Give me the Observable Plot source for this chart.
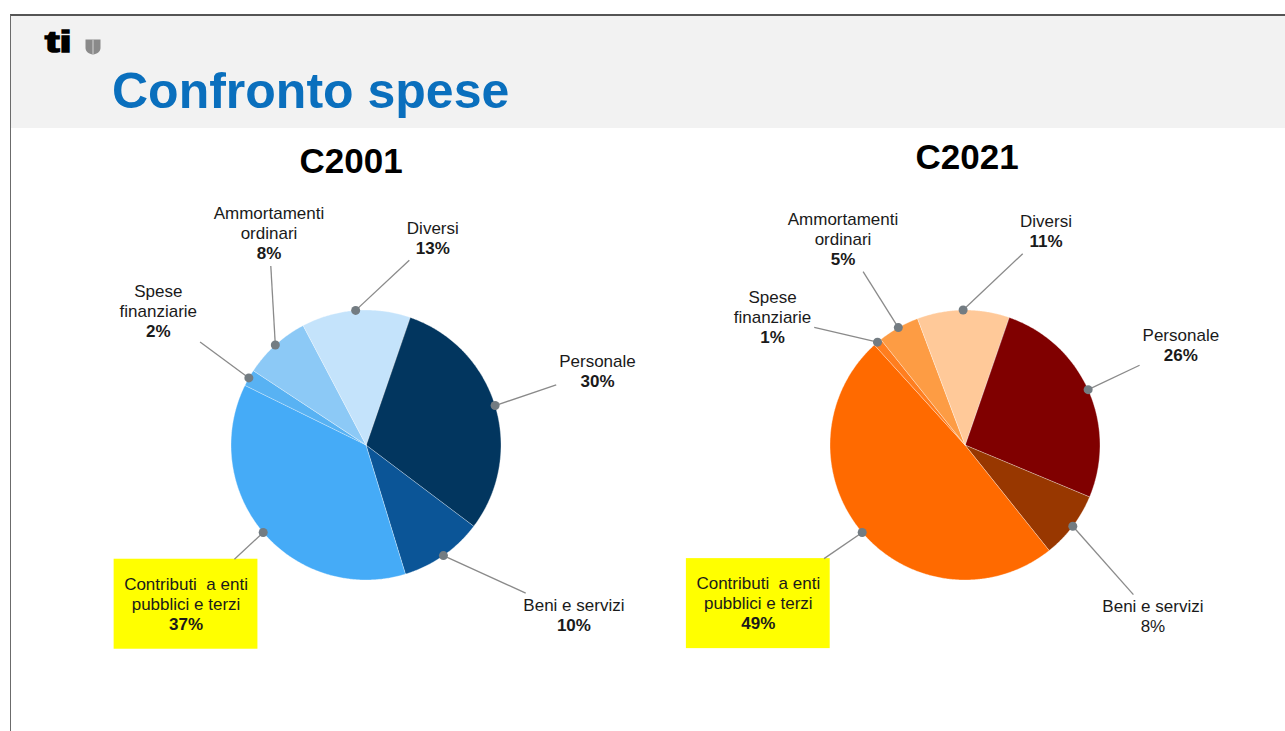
<!DOCTYPE html>
<html>
<head>
<meta charset="utf-8">
<script src="https://cdn.jsdelivr.net/npm/d3@7"></script>
<script src="https://cdn.jsdelivr.net/npm/@observablehq/plot@0.6"></script>
<style>
  html, body { margin: 0; padding: 0; background: #fff; }
  body { width: 1285px; height: 731px; overflow: hidden; position: relative; font-family: Arial, "Liberation Sans", sans-serif; }
  #frame { position: absolute; left: 10px; top: 14px; width: 1275px; height: 717px; border-left: 1.5px solid #6b6b6b; border-top: 2px solid #555; box-sizing: border-box; z-index: 3; pointer-events: none; }
  #header { position: absolute; left: 11px; top: 16px; width: 1274px; height: 112px; background: #f2f2f2; }
  #logo { position: absolute; left: 45px; top: 27px; font: bold 30px "Liberation Sans", Arial, sans-serif; line-height: 30px; color: #000; -webkit-text-stroke: 1.6px #000; transform: scaleX(1.45); transform-origin: left center; }
  #shield { position: absolute; left: 85px; top: 39px; }
  #title { position: absolute; left: 112px; top: 66px; font: bold 50px "Liberation Sans", Arial, sans-serif; line-height: 50px; color: #0a6fbd; white-space: nowrap; }
  #chart { position: absolute; left: 0; top: 128px; z-index: 1; }
</style>
</head>
<body>
<div id="frame"></div>
<div id="header"></div>
<div id="logo">ti</div>
<svg id="shield" width="16" height="16" viewBox="0 0 16 16">
  <path d="M0.5 0.5 H15.5 V9 C15.5 12.5 12 15 8 15.5 C4 15 0.5 12.5 0.5 9 Z" fill="#8a8a8a"/>
  <path d="M8 0.5 V15.5" stroke="#c8c8c8" stroke-width="1.2"/>
</svg>
<div id="title">Confronto spese</div>
<div id="chart"></div>
<script>
// ---------- data ----------
const years = ["C2001", "C2021"];
const categories = [
  "Personale",
  "Beni e servizi",
  "Contributi a enti pubblici e terzi",
  "Spese finanziarie",
  "Ammortamenti ordinari",
  "Diversi"
];
const labelLines = [
  ["Personale"],
  ["Beni e servizi"],
  ["Contributi  a enti", "pubblici e terzi"],
  ["Spese", "finanziarie"],
  ["Ammortamenti", "ordinari"],
  ["Diversi"]
];
const values2001 = [30, 10, 37, 2, 8, 13];
const values2021 = [26, 8, 49, 1, 5, 11];
const colors2001 = ["#02365f", "#0b5597", "#45abf7", "#58b2f3", "#8cc9f6", "#c4e3fb"];
const colors2021 = ["#800000", "#983700", "#ff6a00", "#ff7e1f", "#fd9c44", "#ffc999"];
const highlighted = "Contributi a enti pubblici e terzi";

// ---------- layout (not data) ----------
const U = 135;            // pixels per pie radius
const startDeg = 19;      // first slice angle
const labelPolar = {      // [angle deg clockwise from top, distance in radii]
  C2001: [[72.3, 1.80], [129.3, 1.99], [228.5, 1.78], [302.8, 1.83], [335.3, 1.72], [17.9, 1.61]],
  C2021: [[65.3, 1.76], [132.4, 1.885], [232.5, 1.93], [303.5, 1.71], [329.3, 1.77], [20.8, 1.69]]
};
const plainPct = {C2021: ["Beni e servizi"]};
const titlePos = {C2001: [-0.11, 2.10], C2021: [0.015, 2.13]};
const W = 1285, H = 603, panelW = 599, centerY = 316.5;
const FONT = "Arial, 'Liberation Sans', sans-serif";

// ---------- derived geometry ----------
const canvas = document.createElement("canvas");
const ctx = canvas.getContext("2d");
function textW(t, bold) { ctx.font = (bold ? "bold " : "") + "17px 'Liberation Sans', Arial"; return ctx.measureText(t).width; }

const series = [
  {year: "C2001", values: values2001, colors: colors2001},
  {year: "C2021", values: values2021, colors: colors2021}
];
const slicePts = [], leaders = [], lines = [], boxes = [];
const toRad = Math.PI / 180;
for (const s of series) {
  const rows = categories.map((c, i) => ({name: c, value: s.values[i], color: s.colors[i], i}));
  const arcs = d3.pie().sort(null).value(d => d.value)
    .startAngle(startDeg * toRad).endAngle(startDeg * toRad + 2 * Math.PI)(rows);
  for (const a of arcs) {
    const key = s.year + "-" + a.index;
    slicePts.push({year: s.year, key, color: a.data.color, x: 0, y: 0});
    const n = Math.max(2, Math.ceil((a.endAngle - a.startAngle) / (0.5 * toRad)));
    for (let k = 0; k <= n; k++) {
      const t = a.startAngle + (a.endAngle - a.startAngle) * k / n;
      slicePts.push({year: s.year, key, color: a.data.color, x: Math.sin(t), y: Math.cos(t)});
    }
    // label block
    const [ang, dist] = labelPolar[s.year][a.index];
    const cx = dist * Math.sin(ang * toRad), cy = dist * Math.cos(ang * toRad);
    const nameL = labelLines[a.index];
    const pctBold = !(plainPct[s.year] || []).includes(a.data.name);
    const all = nameL.map(t => ({t, bold: false})).concat([{t: a.data.value + "%", bold: pctBold}]);
    const N = all.length;
    all.forEach((l, k) => {
      lines.push({year: s.year, x: cx, y: cy - ((k - (N - 1) / 2) * 20) / U, text: l.t, bold: l.bold});
    });
    const maxW = d3.max(all, l => textW(l.t, l.bold));
    const isHi = a.data.name === highlighted;
    let hw, hh;
    if (isHi) {
      hw = maxW / 2 + 10; hh = N * 10 + 15;
      boxes.push({year: s.year, x1: cx - hw / U, x2: cx + hw / U, y1: cy - hh / U, y2: cy + hh / U});
    } else {
      hw = maxW / 2 + 3; hh = N * 10 + 2;
    }
    // leader line from slice mid-angle to label box edge
    const mid = (a.startAngle + a.endAngle) / 2;
    const dx = Math.sin(mid), dy = Math.cos(mid);
    const vx = (dx - cx) * U, vy = (dy - cy) * U;
    const tt = Math.min(hw / Math.abs(vx || 1e-9), hh / Math.abs(vy || 1e-9));
    leaders.push({year: s.year, x1: dx, y1: dy, x2: cx + vx * tt / U, y2: cy + vy * tt / U});
  }
}
const titles = years.map(y => ({year: y, x: titlePos[y][0], y: titlePos[y][1], text: y}));

const marginLeft = 365 - panelW / 2;
const chart = Plot.plot({
  width: W,
  height: H,
  marginLeft,
  marginRight: W - marginLeft - 2 * panelW,
  marginTop: 0,
  marginBottom: 0,
  fx: {domain: years, padding: 0, axis: null},
  x: {domain: [-panelW / 2 / U, panelW / 2 / U], axis: null},
  y: {domain: [-(H - centerY) / U, centerY / U], axis: null},
  color: {type: "identity"},
  style: {fontFamily: FONT, background: "none", overflow: "visible"},
  marks: [
    Plot.rect(boxes, {fx: "year", x1: "x1", x2: "x2", y1: "y1", y2: "y2", fill: "#ffff00"}),
    Plot.line(slicePts, {fx: "year", x: "x", y: "y", z: "key", fill: "color", stroke: "#ffffff",
      strokeOpacity: 0.35, strokeWidth: 1, curve: "linear-closed"}),
    Plot.link(leaders, {fx: "year", x1: "x1", y1: "y1", x2: "x2", y2: "y2", stroke: "#8a8a8a", strokeWidth: 1.3}),
    Plot.dot(leaders, {fx: "year", x: "x1", y: "y1", r: 4.5, fill: "#737c82", stroke: "none"}),
    Plot.text(lines.filter(d => !d.bold), {fx: "year", x: "x", y: "y", text: "text", fontSize: 17, fill: "#1a1a1a"}),
    Plot.text(lines.filter(d => d.bold), {fx: "year", x: "x", y: "y", text: "text", fontSize: 17, fontWeight: "bold", fill: "#1a1a1a"}),
    Plot.text(titles, {fx: "year", x: "x", y: "y", text: "text", fontSize: 35, fontWeight: "bold", fill: "#000"})
  ]
});
document.getElementById("chart").appendChild(chart);
</script>
</body>
</html>
